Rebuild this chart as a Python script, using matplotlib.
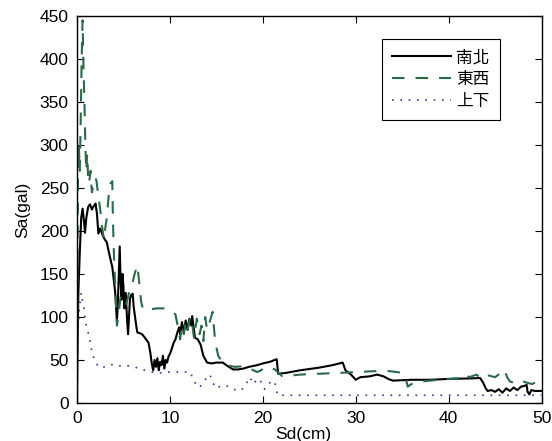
import matplotlib
matplotlib.use("Agg")
from matplotlib import pyplot as plt

plt.rcParams['font.family'] = ['Liberation Sans', 'Noto Sans CJK TC', 'DejaVu Sans']

# 南北 component (Sd in cm, Sa in gal)
ns_sd = [0, 0.05, 0.15, 0.3, 0.45, 0.6, 0.75, 0.86, 1.0, 1.2, 1.4, 1.6, 1.75, 2.0, 2.15, 2.3,
         2.5, 2.8, 3.0, 3.2, 3.5, 3.8, 4.0, 4.1, 4.2, 4.3, 4.4, 4.5, 4.6, 4.7, 4.8, 4.9, 5.0,
         5.1, 5.25, 5.4, 5.5, 5.6, 5.7, 5.85, 6.0, 6.1, 6.25, 6.4, 6.5, 6.8, 7.0, 7.3, 7.7,
         7.9, 8.05, 8.2, 8.35, 8.5, 8.65, 8.8, 8.95, 9.1, 9.25, 9.4, 9.55, 9.7, 9.85, 10.0,
         10.2, 10.4, 10.6, 10.8, 11.0, 11.1, 11.3, 11.5, 11.7, 11.9, 12.1, 12.3, 12.4, 12.55,
         12.7, 13.0, 13.3, 13.6, 14.0, 14.5, 15.0, 15.7, 16.2, 16.8, 17.3, 17.9, 18.5, 19.4,
         20.0, 20.8, 21.5, 21.65, 22.5, 24, 26, 27.5, 28.6, 28.9, 29.5, 30.0, 30.5, 31.5,
         32.3, 33.0, 33.5, 34.0, 36, 38, 40, 42, 43.4, 43.7, 44.0, 44.2, 44.6, 45.0, 45.4,
         45.8, 46.2, 46.6, 47.0, 47.4, 47.8, 48.2, 48.4, 48.5, 48.7, 48.9, 49.3, 50]
ns_sa = [0, 60, 130, 175, 215, 226, 212, 198, 215, 228, 231, 225, 228, 232, 220, 197,
         203, 194, 190, 187, 172, 158, 140, 130, 112, 95, 118, 150, 182, 140, 120, 150, 135,
         110, 128, 95, 80, 100, 121, 126, 127, 112, 100, 88, 82, 81, 80, 76, 70,
         58, 46, 38, 50, 42, 52, 38, 48, 44, 55, 40, 50, 47, 54, 57,
         63, 70, 74, 82, 88, 80, 94, 82, 96, 85, 98, 90, 101, 88,
         76, 74, 68, 55, 47, 46, 47, 47, 43, 39, 39, 40, 42, 44,
         46, 48, 51, 34, 35, 38, 41, 44, 47, 38, 33, 27, 30, 31,
         33, 31, 28, 26, 27, 27, 28, 28.5, 29, 24, 17, 14, 15, 13, 16,
         12, 17, 14, 18, 15, 19, 20, 21, 13, 10, 15, 14, 14]

# 東西 component
ew_sd = [0, 0.05, 0.1, 0.2, 0.3, 0.4, 0.5, 0.6, 0.7, 0.8, 0.9, 1.0, 1.1, 1.2, 1.3, 1.45,
         1.6, 1.8, 2.0, 2.1, 2.3, 2.5, 2.7, 2.9, 3.0, 3.2, 3.4, 3.6, 3.8, 3.85, 3.9, 4.0,
         4.1, 4.2, 4.3, 4.5, 4.7, 5.0, 5.3, 5.6, 5.9, 6.2, 6.5, 6.7, 6.9, 7.1, 7.5, 8.0,
         8.5, 9.0, 9.5, 10.0, 10.6, 10.8, 11.1, 11.3, 11.5, 11.7, 11.9, 12.2, 12.4, 12.6,
         12.9, 13.2, 13.4, 13.6, 13.8, 14.0, 14.3, 14.6, 14.8, 15.0, 15.2, 15.6, 16.1, 17,
         18, 19.4, 19.8, 20.3, 20.8, 21.3, 22.1, 24, 26, 28.3, 30, 32, 33.7, 35.1, 35.4,
         35.6, 36.0, 36.5, 37.0, 38, 39, 40, 41.3, 41.8, 42.2, 43.0, 43.5, 44.3, 45, 45.5,
         46.0, 46.3, 46.6, 47.2, 47.8, 48.3, 49.0, 49.5, 50]
ew_sa = [0, 150, 260, 300, 270, 330, 400, 445, 390, 350, 300, 270, 290, 260, 255, 270,
         245, 255, 262, 258, 240, 225, 205, 190, 200, 215, 240, 255, 258, 225, 200, 165,
         140, 115, 90, 105, 125, 120, 115, 128, 136, 150, 160, 140, 118, 109, 108, 109,
         110, 110, 110, 108, 103, 92, 74, 90, 80, 95, 85, 100, 92, 75,
         98, 80, 90, 72, 100, 85, 95, 106, 80, 65, 55, 48, 44, 42,
         43, 36, 38, 42, 41, 39, 31, 33, 34, 35, 36, 37, 37, 35, 28,
         19, 22, 24, 25, 26, 27, 28, 29, 34, 30, 33, 28, 32, 30, 34,
         39, 30, 25, 23, 26, 24, 22, 25, 24]

# 上下 component
ud_sd = [0, 0.05, 0.15, 0.3, 0.45, 0.6, 0.75, 0.9, 1.1, 1.3, 1.5, 1.7, 2.0, 2.3, 2.7, 3.2,
         3.9, 4.5, 5.2, 6.0, 6.5, 7.3, 8.1, 9.0, 10.0, 11.0, 12.2, 12.5, 12.8, 13.2, 13.6,
         14.3, 14.6, 15.0, 15.5, 16.1, 16.8, 17.5, 18.0, 18.6, 19.0, 19.4, 19.7, 20.0, 20.2,
         20.6, 21.0, 21.3, 21.6, 25, 30, 35, 40, 45, 50]
ud_sa = [0, 50, 95, 115, 128, 118, 110, 95, 86, 78, 65, 55, 48, 42, 41, 43,
         45, 43, 44, 42, 41, 38, 36, 35, 36, 36, 36, 27, 22, 18, 25,
         33, 24, 17, 20, 20, 16, 14, 18, 30, 22, 28, 27, 20, 16,
         22, 26, 24, 9, 9, 9, 9, 9, 9, 9]

fig = plt.figure(figsize=(5.52, 4.41), dpi=100)
ax = fig.add_axes([77 / 552, 38 / 441, 464.5 / 552, 387 / 441])

ax.plot(ns_sd, ns_sa, color='black', lw=1.5, label='南北')
ax.plot(ew_sd, ew_sa, color='#2b6a48', lw=1.5, ls=(0, (6, 5.3)), label='東西')
ax.plot(ud_sd, ud_sa, color='#2c3f99', lw=1.2, ls=(0, (1, 4)), label='上下')

ax.set_xlim(0, 50)
ax.set_ylim(0, 450)
ax.set_xticks([0, 10, 20, 30, 40, 50])
ax.set_yticks(range(0, 451, 50))
ax.tick_params(direction='in', length=5, width=0.8, top=True, right=True, labelsize=12.5, pad=6)
for s in ax.spines.values():
    s.set_linewidth(1.0)

ax.set_xlabel('Sd(cm)', fontsize=12.5)
ax.xaxis.set_label_coords(0.4866, -0.062)
ax.set_ylabel('Sa(gal)', fontsize=12.5)
ax.yaxis.set_label_coords(-0.101, 0.5)

leg = ax.legend(loc='upper left', bbox_to_anchor=(0.657, 0.94), borderaxespad=0,
                fontsize=12, fancybox=False, edgecolor='black', framealpha=1,
                handlelength=3.5, handletextpad=0.35, borderpad=0.6, labelspacing=0.28)
leg.get_frame().set_linewidth(0.8)
for t in leg.get_texts():
    t.set_family(['Noto Sans CJK TC', 'DejaVu Sans'])

fig.savefig('out.png', dpi=100)
